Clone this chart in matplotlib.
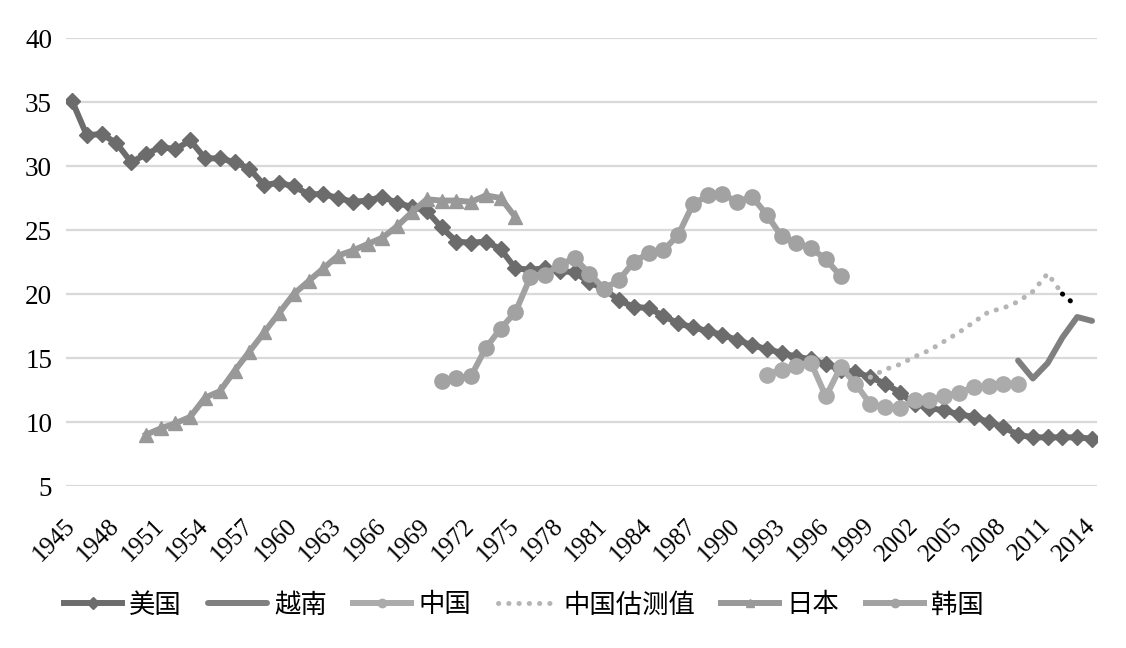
import matplotlib
matplotlib.use("Agg")
import matplotlib.pyplot as plt
import numpy as np

# ---------------- data ----------------
us_years = list(range(1945, 2015))
us_vals = [35.1, 32.4, 32.5, 31.8, 30.3, 30.9, 31.5, 31.3, 32.0, 30.6,
           30.6, 30.3, 29.8, 28.5, 28.7, 28.4, 27.8, 27.8, 27.5, 27.2,
           27.3, 27.6, 27.1, 26.8, 26.5, 25.2, 24.1, 24.0, 24.1, 23.5,
           22.0, 21.9, 22.0, 21.8, 21.7, 20.9, 20.4, 19.5, 19.0, 18.9,
           18.3, 17.7, 17.4, 17.1, 16.8, 16.4, 16.0, 15.7, 15.4, 15.1,
           14.9, 14.5, 14.1, 13.9, 13.5, 13.0, 12.3, 11.4, 11.1, 10.9,
           10.6, 10.4, 10.0, 9.6, 9.0, 8.8, 8.8, 8.8, 8.8, 8.7]

vn_years = [2009, 2010, 2011, 2012, 2013, 2014]
vn_vals = [14.8, 13.4, 14.6, 16.6, 18.2, 17.9]

cn_years = list(range(1992, 2010))
cn_vals = [13.7, 14.1, 14.4, 14.6, 12.0, 14.3, 13.0, 11.4, 11.2, 11.1,
           11.7, 11.7, 12.0, 12.3, 12.7, 12.8, 13.0, 13.0]

est_years = list(range(1999, 2014))
est_vals = [13.5, 14.1, 14.5, 15.1, 15.6, 16.3, 17.0, 17.8, 18.6, 18.9,
            19.4, 20.2, 21.6, 20.0, 19.0]

jp_years = list(range(1950, 1976))
jp_vals = [9.0, 9.5, 9.9, 10.4, 11.9, 12.4, 14.0, 15.5, 17.0, 18.5,
           20.0, 21.0, 22.0, 23.0, 23.4, 23.9, 24.4, 25.3, 26.4, 27.4,
           27.3, 27.3, 27.2, 27.7, 27.5, 26.0]

kr_years = list(range(1970, 1998))
kr_vals = [13.2, 13.4, 13.6, 15.8, 17.3, 18.6, 21.3, 21.5, 22.3, 22.8,
           21.6, 20.4, 21.1, 22.5, 23.2, 23.4, 24.6, 27.0, 27.7, 27.8,
           27.2, 27.6, 26.2, 24.5, 24.0, 23.6, 22.7, 21.4]

labels = ["美国", "越南", "中国", "中国估测值", "日本", "韩国"]
tick_years = list(range(1945, 2015, 3))
y_ticks = [5, 10, 15, 20, 25, 30, 35, 40]

# ---------------- figure ----------------
W, H = 1126, 648
fig = plt.figure(figsize=(W / 100, H / 100), dpi=100)
ax = fig.add_axes([66 / W, 1 - 486 / H, (1097 - 66) / W, (486 - 38) / H])

px = 1020 / 69  # pixels per year
ax.set_xlim(1945 - 6 / px, 2014 + 5 / px)
ax.set_ylim(5, 40)

for s in ax.spines.values():
    s.set_visible(False)
ax.set_yticks(y_ticks)
ax.yaxis.grid(True, color="#d9d9d9", linewidth=1.6)
ax.set_axisbelow(True)
ax.tick_params(axis="both", length=0)
ax.tick_params(axis="y", pad=10)

serif = ["Liberation Serif", "DejaVu Serif"]
ax.set_yticklabels([str(v) for v in y_ticks], fontsize=19.5, family=serif)
ax.set_xticks(tick_years)
ax.set_xticklabels([str(v) for v in tick_years], fontsize=18, family=serif,
                   rotation=45, ha="right", va="center", rotation_mode="anchor")
ax.tick_params(axis="x", pad=26)

lw = 4.3
l_us, = ax.plot(us_years, us_vals, color="#6c6c6c", lw=lw, marker="D",
                markersize=8, label=labels[0], solid_joinstyle="round")
l_vn, = ax.plot(vn_years, vn_vals, color="#7f7f7f", lw=lw, label=labels[1],
                solid_joinstyle="round", solid_capstyle="round")
l_cn, = ax.plot(cn_years, cn_vals, color="#ababab", lw=lw, marker="o",
                markersize=11, label=labels[2], solid_joinstyle="round")
l_est, = ax.plot(est_years[:-1], est_vals[:-1], color="#b5b5b5", lw=3.6,
                 linestyle=(0, (0.05, 2.0)), dash_capstyle="round",
                 label=labels[3])
ax.plot(est_years[-2:], est_vals[-2:], color="black", lw=3.6,
        linestyle=(0, (0.05, 2.0)), dash_capstyle="round")
l_jp, = ax.plot(jp_years, jp_vals, color="#999999", lw=lw, marker="^",
                markersize=10, label=labels[4], solid_joinstyle="round")
l_kr, = ax.plot(kr_years, kr_vals, color="#a2a2a2", lw=lw, marker="o",
                markersize=11, label=labels[5], solid_joinstyle="round")

leg = fig.legend(handles=[l_us, l_vn, l_cn, l_est, l_jp, l_kr],
                 loc="center", bbox_to_anchor=(524 / W, 1 - 605 / H),
                 ncol=6, frameon=False,
                 prop={"family": ["Noto Sans CJK SC", "DejaVu Sans"], "size": 19},
                 handlelength=2.2, handletextpad=0.28, columnspacing=1.0)
for h in leg.legend_handles:
    try:
        h.set_markersize(6)
    except Exception:
        pass

fig.savefig("out.png", dpi=100)
